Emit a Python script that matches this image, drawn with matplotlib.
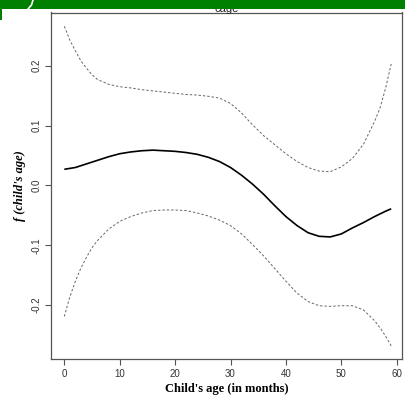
import matplotlib
matplotlib.use("Agg")
import matplotlib.pyplot as plt
from matplotlib.patches import Rectangle
from matplotlib.lines import Line2D

# ---- data ----
mean_x = [0, 2, 4, 6, 8, 10, 12, 14, 16, 18, 20, 22, 24, 26, 28, 30, 32, 34, 36,
          38, 40, 42, 44, 46, 48, 50, 52, 54, 56, 58, 59]
mean_y = [0.027, 0.030, 0.036, 0.042, 0.048, 0.053, 0.056, 0.058, 0.059, 0.058,
          0.057, 0.055, 0.052, 0.047, 0.040, 0.030, 0.017, 0.002, -0.015, -0.034,
          -0.052, -0.067, -0.079, -0.085, -0.086, -0.081, -0.071, -0.062, -0.052,
          -0.043, -0.039]

band_x = [0, 1, 2, 3, 4, 5, 6, 8, 10, 12, 14, 16, 18, 20, 22, 24, 26, 28, 30, 32,
          34, 36, 38, 40, 42, 44, 46, 48, 50, 52, 54, 56, 57, 58, 59]
upper_y = [0.266, 0.243, 0.225, 0.208, 0.196, 0.185, 0.177, 0.169, 0.165, 0.163,
           0.160, 0.158, 0.156, 0.154, 0.152, 0.151, 0.149, 0.146, 0.137, 0.121,
           0.101, 0.083, 0.068, 0.053, 0.040, 0.030, 0.024, 0.023, 0.031, 0.045,
           0.069, 0.107, 0.130, 0.163, 0.203]
lower_y = [-0.219, -0.186, -0.160, -0.138, -0.120, -0.104, -0.092, -0.073, -0.060,
           -0.052, -0.046, -0.042, -0.041, -0.041, -0.042, -0.046, -0.051, -0.058,
           -0.067, -0.081, -0.099, -0.118, -0.139, -0.160, -0.180, -0.194, -0.201,
           -0.202, -0.201, -0.201, -0.208, -0.226, -0.238, -0.252, -0.268]

x_ticks = [0, 10, 20, 30, 40, 50, 60]
y_ticks = [-0.2, -0.1, 0.0, 0.1, 0.2]
y_tick_labels = ["-0.2", "-0.1", "0.0", "0.1", "0.2"]

W, H = 405, 396
fig = plt.figure(figsize=(W / 100, H / 100), dpi=100)
fig.patch.set_facecolor("white")

ax = fig.add_axes([51 / W, 1 - 359 / H, (402 - 51) / W, (359 - 12.5) / H])

ax.plot(mean_x, mean_y, color="black", lw=1.2, solid_capstyle="butt",
        solid_joinstyle="round")
ax.plot(band_x, upper_y, color="#666666", lw=0.7, linestyle=(0, (2.5, 2)))
ax.plot(band_x, lower_y, color="#666666", lw=0.7, linestyle=(0, (2.5, 2)))

ax.set_xlim(-2.4, 60.95)
ax.set_ylim(-0.290, 0.289)

tick_font = {"family": "Liberation Sans", "size": 7}
ax.set_xticks(x_ticks)
ax.set_xticklabels([str(v) for v in x_ticks], fontdict=tick_font)
ax.set_yticks(y_ticks)
ax.set_yticklabels(y_tick_labels, fontdict=tick_font, rotation=90, va="center")

for sp in ax.spines.values():
    sp.set_color("#555555")
    sp.set_linewidth(0.9)
ax.tick_params(direction="out", length=4, width=0.8, color="#555555",
               labelcolor="#333333", pad=3)

ax.set_xlabel("Child's age (in months)", family="Liberation Serif",
              fontweight="bold", fontsize=9, labelpad=3)
ax.set_ylabel("f (child's age)", family="Liberation Serif",
              fontweight="bold", fontstyle="italic", fontsize=9, labelpad=4)

# title partly hidden behind the green header bar
fig.text(226.5 / W, 1 - 11.5 / H, "cage", ha="center", va="baseline",
         family="Liberation Sans", fontsize=8, color="#222222")

# green header bar and decorations
fig.patches.append(Rectangle((0, 1 - 9 / H), 1, 9 / H, transform=fig.transFigure,
                             facecolor="#008000", edgecolor="none", zorder=10))
fig.patches.append(Rectangle((0, 1 - 20 / H), 2 / W, 11 / H, transform=fig.transFigure,
                             facecolor="#008000", edgecolor="none", zorder=10))
fig.lines.append(Line2D([33 / W, 31.5 / W, 28 / W], [1.0, 1 - 5 / H, 1 - 9 / H],
                        transform=fig.transFigure, color="white", lw=1.2, zorder=11))

fig.savefig("out.png", dpi=100)
